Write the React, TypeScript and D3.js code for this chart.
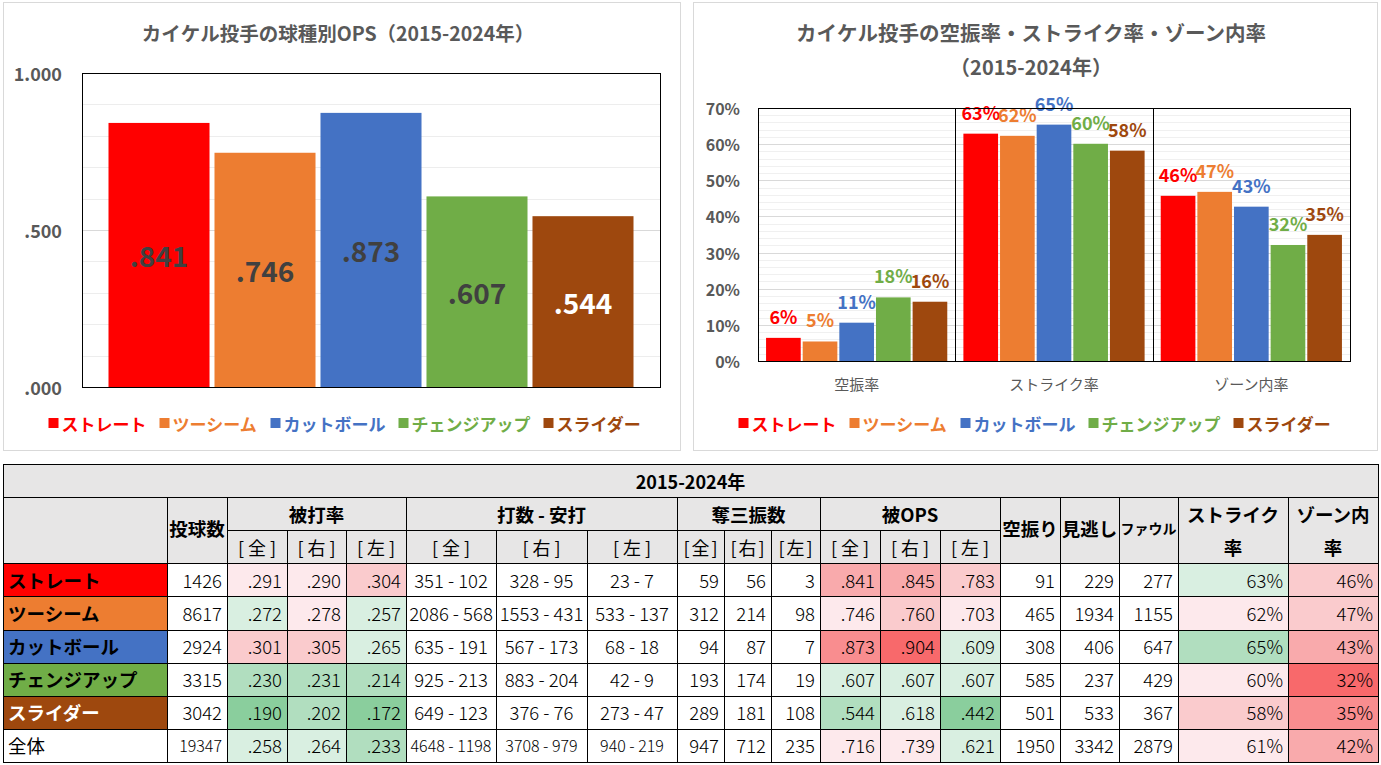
import React from 'react';
import * as d3 from 'd3';

// ---------- data ----------
const pitchTypes = ['ストレート', 'ツーシーム', 'カットボール', 'チェンジアップ', 'スライダー'];
const pitchColors = ['#FF0000', '#ED7D31', '#4472C4', '#70AD47', '#9E480E'];

const opsTitle = 'カイケル投手の球種別OPS（2015-2024年）';
const opsValues = [0.841, 0.746, 0.873, 0.607, 0.544];
const opsTicks = [0, 0.5, 1.0];

const rateTitle1 = 'カイケル投手の空振率・ストライク率・ゾーン内率';
const rateTitle2 = '（2015-2024年）';
const rateCategories = ['空振率', 'ストライク率', 'ゾーン内率'];
const whiffRates = [6.4, 5.4, 10.6, 17.6, 16.4];
const strikeRates = [62.9, 62.3, 65.4, 60.1, 58.2];
const zoneRates = [45.7, 46.8, 42.7, 32.1, 34.9];
const rateTicks = [0, 10, 20, 30, 40, 50, 60, 70];

const tableTitle = '2015-2024年';
const rowLabels = [...pitchTypes, '全体'];
const pitchCounts = [1426, 8617, 2924, 3315, 3042, 19347];
const avgAll = [0.291, 0.272, 0.301, 0.23, 0.19, 0.258];
const avgRight = [0.29, 0.278, 0.305, 0.231, 0.202, 0.264];
const avgLeft = [0.304, 0.257, 0.265, 0.214, 0.172, 0.233];
const abHitsAll = ['351 - 102', '2086 - 568', '635 - 191', '925 - 213', '649 - 123', '4648 - 1198'];
const abHitsRight = ['328 - 95', '1553 - 431', '567 - 173', '883 - 204', '376 - 76', '3708 - 979'];
const abHitsLeft = ['23 - 7', '533 - 137', '68 - 18', '42 - 9', '273 - 47', '940 - 219'];
const soAll = [59, 312, 94, 193, 289, 947];
const soRight = [56, 214, 87, 174, 181, 712];
const soLeft = [3, 98, 7, 19, 108, 235];
const opsAll = [0.841, 0.746, 0.873, 0.607, 0.544, 0.716];
const opsRight = [0.845, 0.76, 0.904, 0.607, 0.618, 0.739];
const opsLeft = [0.783, 0.703, 0.609, 0.607, 0.442, 0.621];
const whiffCounts = [91, 465, 308, 585, 501, 1950];
const calledCounts = [229, 1934, 406, 237, 533, 3342];
const foulCounts = [277, 1155, 647, 429, 367, 2879];
const strikePct = [63, 62, 65, 60, 58, 61];
const zonePct = [46, 47, 43, 32, 35, 42];

// ---------- styles ----------
const FONT = "'Noto Sans CJK JP', 'Noto Sans', sans-serif";
const GRAY_TEXT = '#595959';
const HEADER_BG = '#E7E6E6';
const PAL = {
  red5: '#F8696B', red4: '#F98D8F', red3: '#F9AAAC', red2: '#FACBCD', red1: '#FDE9EC',
  green1: '#D9EFE1', green2: '#B1DEBF', green3: '#8ACE9D',
};

const fmt3 = (v: number) => d3.format('.3f')(v).replace(/^0/, '');
const isDark = (c: string) => (d3.hsl(c).l < 0.4);

const avgScale = d3.scaleThreshold<number, string>()
  .domain([0.2, 0.25, 0.275, 0.3])
  .range([PAL.green3, PAL.green2, PAL.green1, PAL.red1, PAL.red2]);
const opsScale = d3.scaleThreshold<number, string>()
  .domain([0.5, 0.6, 0.7, 0.75, 0.8, 0.85, 0.9])
  .range([PAL.green3, PAL.green2, PAL.green1, PAL.red1, PAL.red2, PAL.red3, PAL.red4, PAL.red5]);
const strikeScale = d3.scaleThreshold<number, string>()
  .domain([60, 62.5, 65])
  .range([PAL.red2, PAL.red1, PAL.green1, PAL.green2]);
const zoneScale = d3.scaleThreshold<number, string>()
  .domain([34, 40, 45])
  .range([PAL.red5, PAL.red4, PAL.red3, PAL.red2]);

function Legend({ cx, y }: { cx: number; y: number }) {
  const fs = 17, sq = 10, gap = 3, itemGap = 13;
  const widths = pitchTypes.map((t) => sq + gap + t.length * fs);
  const total = d3.sum(widths) + itemGap * (pitchTypes.length - 1);
  let x = cx - total / 2;
  const items = pitchTypes.map((t, i) => {
    const x0 = x;
    x += widths[i] + itemGap;
    return (
      <g key={t}>
        <rect x={x0} y={y - sq / 2} width={sq} height={sq} fill={pitchColors[i]} />
        <text x={x0 + sq + gap} y={y} dominantBaseline="central" fontSize={fs} fontWeight="bold" fill={pitchColors[i]}>{t}</text>
      </g>
    );
  });
  return <g>{items}</g>;
}

function OpsChart() {
  const P = { x0: 82, x1: 660, y0: 73, y1: 387 };
  const y = d3.scaleLinear().domain([0, 1]).range([P.y1, P.y0]);
  const x = d3.scaleBand<string>().domain(pitchTypes).range([P.x0, P.x1]).paddingInner(0.047).paddingOuter(0.25);
  const grid = d3.range(0, 1.0001, 0.1);
  return (
    <g>
      <rect x={3.5} y={2.5} width={677} height={448} fill="#fff" stroke="#D9D9D9" />
      <text x={338} y={32} textAnchor="middle" dominantBaseline="central" fontSize={19.5} fontWeight="bold" fill={GRAY_TEXT}>{opsTitle}</text>
      {grid.map((g, i) => (
        <line key={i} x1={P.x0} x2={P.x1} y1={Math.round(y(g)) + 0.5} y2={Math.round(y(g)) + 0.5}
          stroke={i % 5 === 0 ? '#D9D9D9' : '#EDEDED'} />
      ))}
      {pitchTypes.map((t, i) => (
        <rect key={t} x={x(t)} y={y(opsValues[i])} width={x.bandwidth()} height={y(0) - y(opsValues[i])} fill={pitchColors[i]} />
      ))}
      {pitchTypes.map((t, i) => (
        <text key={t} x={(x(t) as number) + x.bandwidth() / 2} y={(y(opsValues[i]) + y(0)) / 2}
          textAnchor="middle" dominantBaseline="central" fontSize={28} fontWeight="bold"
          fill={isDark(pitchColors[i]) ? '#FFFFFF' : '#404040'}>{fmt3(opsValues[i])}</text>
      ))}
      <rect x={P.x0 + 0.5} y={P.y0 + 0.5} width={P.x1 - P.x0} height={P.y1 - P.y0} fill="none" stroke="#000" />
      {opsTicks.map((t) => (
        <text key={t} x={62} y={y(t)} textAnchor="end" dominantBaseline="central" fontSize={18} fontWeight="bold" fill={GRAY_TEXT}>
          {t >= 1 ? d3.format('.3f')(t) : fmt3(t)}
        </text>
      ))}
      <Legend cx={345} y={423} />
    </g>
  );
}

function RateChart() {
  const P = { x0: 758, x1: 1350, y0: 108, y1: 361 };
  const y = d3.scaleLinear().domain([0, 70]).range([P.y1, P.y0]);
  const xc = d3.scaleBand<string>().domain(rateCategories).range([P.x0, P.x1]);
  const xs = d3.scaleBand<string>().domain(pitchTypes).range([0, xc.bandwidth()]).paddingInner(0.054).paddingOuter(0.22);
  const series = [whiffRates, strikeRates, zoneRates];
  const grid = d3.range(0, 70.001, 2);
  return (
    <g>
      <rect x={693.5} y={2.5} width={684} height={448} fill="#fff" stroke="#D9D9D9" />
      <text x={1031} y={32} textAnchor="middle" dominantBaseline="central" fontSize={20.5} fontWeight="bold" fill={GRAY_TEXT}>{rateTitle1}</text>
      <text x={1031} y={66} textAnchor="middle" dominantBaseline="central" fontSize={20} fontWeight="bold" fill={GRAY_TEXT}>{rateTitle2}</text>
      {grid.map((g, i) => (
        <line key={i} x1={P.x0} x2={P.x1} y1={Math.round(y(g)) + 0.5} y2={Math.round(y(g)) + 0.5}
          stroke={i % 5 === 0 ? '#D9D9D9' : '#F0F0F0'} />
      ))}
      {rateCategories.map((c, ci) => (
        <g key={c} transform={`translate(${xc(c)},0)`}>
          {pitchTypes.map((t, i) => (
            <rect key={t} x={xs(t)} y={y(series[ci][i])} width={xs.bandwidth()} height={y(0) - y(series[ci][i])} fill={pitchColors[i]} />
          ))}
          {pitchTypes.map((t, i) => (
            <text key={t} x={(xs(t) as number) + xs.bandwidth() / 2} y={y(series[ci][i]) - 14}
              textAnchor="middle" fontSize={18} fontWeight="bold" fill={pitchColors[i]}>{Math.round(series[ci][i])}%</text>
          ))}
        </g>
      ))}
      {rateCategories.slice(1).map((c) => (
        <line key={c} x1={Math.round(xc(c) as number) + 0.5} x2={Math.round(xc(c) as number) + 0.5} y1={P.y0} y2={P.y1} stroke="#000" />
      ))}
      <rect x={P.x0 + 0.5} y={P.y0 + 0.5} width={P.x1 - P.x0} height={P.y1 - P.y0} fill="none" stroke="#000" />
      {rateTicks.map((t) => (
        <text key={t} x={740} y={y(t)} textAnchor="end" dominantBaseline="central" fontSize={16} fontWeight="bold" fill={GRAY_TEXT}>{t}%</text>
      ))}
      {rateCategories.map((c) => (
        <text key={c} x={(xc(c) as number) + xc.bandwidth() / 2} y={383} textAnchor="middle" dominantBaseline="central" fontSize={15} fill={GRAY_TEXT}>{c}</text>
      ))}
      <Legend cx={1035} y={423} />
    </g>
  );
}

function StatsTable() {
  const colX = [3, 167, 227, 287, 346, 406, 496, 587, 677, 724, 771, 820, 880, 940, 1000, 1060, 1119, 1178, 1288, 1378];
  const rowH = 33.1;
  const top = 464;
  const rowY = d3.range(10).map((i) => top + i * rowH);
  const subs = ['[全]', '[右]', '[左]'];
  type Col = { values: (number | string)[]; fmt: (v: any) => string; align: 'end' | 'middle'; color?: (v: any) => string };
  const cols: Col[] = [
    { values: pitchCounts, fmt: String, align: 'end' },
    { values: avgAll, fmt: fmt3, align: 'end', color: avgScale },
    { values: avgRight, fmt: fmt3, align: 'end', color: avgScale },
    { values: avgLeft, fmt: fmt3, align: 'end', color: avgScale },
    { values: abHitsAll, fmt: String, align: 'middle' },
    { values: abHitsRight, fmt: String, align: 'middle' },
    { values: abHitsLeft, fmt: String, align: 'middle' },
    { values: soAll, fmt: String, align: 'end' },
    { values: soRight, fmt: String, align: 'end' },
    { values: soLeft, fmt: String, align: 'end' },
    { values: opsAll, fmt: fmt3, align: 'end', color: opsScale },
    { values: opsRight, fmt: fmt3, align: 'end', color: opsScale },
    { values: opsLeft, fmt: fmt3, align: 'end', color: opsScale },
    { values: whiffCounts, fmt: String, align: 'end' },
    { values: calledCounts, fmt: String, align: 'end' },
    { values: foulCounts, fmt: String, align: 'end' },
    { values: strikePct, fmt: (v: number) => `${v}%`, align: 'end', color: strikeScale },
    { values: zonePct, fmt: (v: number) => `${v}%`, align: 'end', color: zoneScale },
  ];
  const cells: any[] = [];
  const texts: any[] = [];
  const cellRect = (key: string, c0: number, c1: number, r0: number, r1: number, fill: string) => {
    cells.push(
      <rect key={key} x={Math.round(colX[c0]) + 0.5} y={Math.round(rowY[r0]) + 0.5}
        width={Math.round(colX[c1]) - Math.round(colX[c0])} height={Math.round(rowY[r1]) - Math.round(rowY[r0])}
        fill={fill} stroke="#000" strokeWidth={1} />
    );
  };
  const midX = (c0: number, c1: number) => (colX[c0] + colX[c1]) / 2;
  const midY = (r0: number, r1: number) => (rowY[r0] + rowY[r1]) / 2;
  // title row
  cellRect('title', 0, 19, 0, 1, HEADER_BG);
  texts.push(<text key="title" x={midX(0, 19)} y={midY(0, 1)} textAnchor="middle" dominantBaseline="central" fontSize={18} fontWeight="bold">{tableTitle}</text>);
  // header blocks
  cellRect('h-blank', 0, 1, 1, 3, HEADER_BG);
  const spanHeads: [string, number, number][] = [['被打率', 2, 5], ['打数 - 安打', 5, 8], ['奪三振数', 8, 11], ['被OPS', 11, 14]];
  spanHeads.forEach(([label, c0, c1]) => {
    cellRect('h-' + label, c0, c1, 1, 2, HEADER_BG);
    texts.push(<text key={'h-' + label} x={midX(c0, c1)} y={midY(1, 2)} textAnchor="middle" dominantBaseline="central" fontSize={18.5} fontWeight="bold">{label}</text>);
    for (let k = 0; k < 3; k++) {
      const narrow = colX[c0 + k + 1] - colX[c0 + k] < 55;
      const ls = narrow ? 2 : 4;
      cellRect(`s-${label}-${k}`, c0 + k, c0 + k + 1, 2, 3, HEADER_BG);
      texts.push(<text key={`s-${label}-${k}`} x={midX(c0 + k, c0 + k + 1) + ls / 2} y={midY(2, 3)} textAnchor="middle" dominantBaseline="central"
        fontSize={18} letterSpacing={ls}>{subs[k]}</text>);
    }
  });
  const tallHeads: [string, number, number][] = [['投球数', 1, 18.5], ['空振り', 14, 18.5], ['見逃し', 15, 18.5], ['ファウル', 16, 14]];
  tallHeads.forEach(([label, c, fs]) => {
    cellRect('t-' + label, c, c + 1, 1, 3, HEADER_BG);
    texts.push(<text key={'t-' + label} x={midX(c, c + 1)} y={midY(1, 3) - 2} textAnchor="middle" dominantBaseline="central" fontSize={fs} fontWeight="bold">{label}</text>);
  });
  const wrapHeads: [string, string, number][] = [['ストライク', '率', 17], ['ゾーン内', '率', 18]];
  wrapHeads.forEach(([l1, l2, c]) => {
    cellRect('w-' + l1, c, c + 1, 1, 3, HEADER_BG);
    texts.push(<text key={'w1-' + l1} x={midX(c, c + 1)} y={midY(1, 2)} textAnchor="middle" dominantBaseline="central" fontSize={18.5} fontWeight="bold">{l1}</text>);
    texts.push(<text key={'w2-' + l1} x={midX(c, c + 1)} y={midY(2, 3)} textAnchor="middle" dominantBaseline="central" fontSize={18.5} fontWeight="bold">{l2}</text>);
  });
  // data rows
  rowLabels.forEach((label, ri) => {
    const r = ri + 3;
    const bg = ri < pitchColors.length ? pitchColors[ri] : '#FFFFFF';
    const isTotal = ri >= pitchColors.length;
    cellRect('l-' + ri, 0, 1, r, r + 1, bg);
    texts.push(<text key={'l-' + ri} x={colX[0] + 5} y={midY(r, r + 1)} dominantBaseline="central" fontSize={18.5}
      fontWeight={isTotal ? 'normal' : 'bold'} fill={isDark(bg) ? '#FFFFFF' : '#000000'}>{label}</text>);
    cols.forEach((col, k) => {
      const c = k + 1;
      const v = col.values[ri];
      const fill = col.color ? col.color(v) : '#FFFFFF';
      cellRect(`c-${ri}-${c}`, c, c + 1, r, r + 1, fill);
      const str = col.fmt(v);
      const fs = isTotal && str.length >= 5 ? 16 : 18.5;
      const tx = col.align === 'end' ? colX[c + 1] - 5 : midX(c, c + 1);
      texts.push(<text key={`c-${ri}-${c}`} x={tx} y={midY(r, r + 1)} textAnchor={col.align} dominantBaseline="central"
        fontSize={fs} fontWeight={300} clipPath={`url(#clip-${c}-${r})`}>{str}</text>);
    });
  });
  const clips = [] as any[];
  for (let r = 3; r < 9; r++) {
    for (let c = 1; c < 19; c++) {
      clips.push(<clipPath key={`clip-${c}-${r}`} id={`clip-${c}-${r}`}><rect x={colX[c] + 1} y={rowY[r]} width={colX[c + 1] - colX[c] - 1} height={rowH} /></clipPath>);
    }
  }
  return (
    <g>
      <defs>{clips}</defs>
      <g shapeRendering="crispEdges">{cells}</g>
      <g fill="#000">{texts}</g>
    </g>
  );
}

export default function App() {
  return (
    <svg width={1381} height={765} fontFamily={FONT}
      style={{ position: 'absolute', left: 0, top: 0, background: '#FFFFFF', display: 'block' }}>
      <rect x={0} y={0} width={1381} height={765} fill="#FFFFFF" />
      <OpsChart />
      <RateChart />
      <StatsTable />
    </svg>
  );
}
